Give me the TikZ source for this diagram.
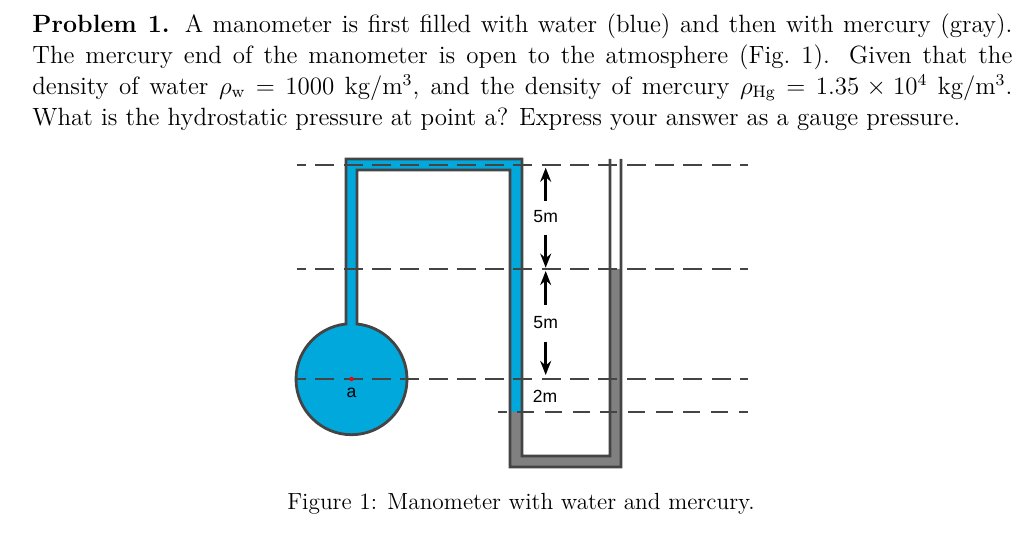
\documentclass[tikz,border=0pt]{standalone}
\usepackage{mathtools}
\usepackage{fontspec}
\usetikzlibrary{arrows.meta}
\newfontfamily\figlabelfont{Liberation Sans}
\definecolor{waterblue}{HTML}{00A8DC}
\definecolor{mercurygray}{HTML}{808080}
\definecolor{tubeline}{HTML}{444444}
\tikzstyle{level} = [tubeline, line width=0.4pt, dash pattern=on 0.19cm off 0.093cm, dash phase=0.10cm]
\tikzstyle{tube} = [tubeline, line width=0.8pt]
\tikzstyle{dimarrow} = [line width=0.75pt, -{Stealth[length=4pt,width=3.1pt]}]
\tikzstyle{dimlabel} = [inner sep=0pt, font=\figlabelfont\fontsize{5pt}{5pt}\selectfont]
\tikzstyle{page} = [inner sep=0pt, transform shape, font=\fontsize{12pt}{14.9pt}\selectfont]
\begin{document}
\begin{tikzpicture}
                \useasboundingbox (0, 0) rectangle (10.24, 5.37);
                % the problem text
                \node (problem) [page, scale=0.592, anchor=north west, text width=16.554cm, align=justify] at (0.32, 5.24) {\textbf{Problem 1.} A manometer is first filled with water (blue) and then with mercury (gray).\linebreak The mercury end of the manometer is open to the atmosphere (Fig.~1). Given that the\linebreak density of water $\rho_{\mathrm{w}}$ = 1000 kg/m$^3$, and the density of mercury $\rho_{\mathrm{Hg}}$ = $1.35\times10^{4}$ kg/m$^3$.\linebreak What is the hydrostatic pressure at point a? Express your answer as a gauge pressure.};
                % water and mercury
                \fill [waterblue] (3.57, 2.13) arc (84.3:-264.3:0.555) -- (3.46, 3.78) -- (5.22, 3.78) -- (5.22, 1.25) -- (5.10, 1.25) -- (5.10, 3.67) -- (3.57, 3.67) -- cycle;
                \fill [mercurygray] (5.10, 1.25) -- (5.10, 0.70) -- (6.21, 0.70) -- (6.21, 2.68) -- (6.10, 2.68) -- (6.10, 0.81) -- (5.22, 0.81) -- (5.22, 1.25) -- cycle;
                % the glass
                \draw [tube] (6.10, 3.78) -- (6.10, 0.81) -- (5.22, 0.81) -- (5.22, 3.78) -- (3.46, 3.78) -- (3.46, 2.13) arc (95.7:444.3:0.555) |- (5.10, 3.67) -- (5.10, 0.70) -- (6.21, 0.70) -- (6.21, 3.78);
                % the levels
                \draw [level] (2.97, 3.72) -- (7.48, 3.72);
                \draw [level] (2.97, 2.68) -- (7.48, 2.68);
                \draw [level] (2.97, 1.58) -- (7.48, 1.58);
                \draw [level, dash pattern=on 0.17cm off 0.107cm, dash phase=0.085cm] (4.98, 1.25) -- (7.48, 1.25);
                \fill [red] (3.515, 1.58) circle [radius=0.022];
                % the heights
                \coordinate (toplevel) at (5.457, 3.693);
                \coordinate (midabove) at (5.457, 2.693);
                \coordinate (midbelow) at (5.457, 2.66);
                \coordinate (lowlevel) at (5.457, 1.62);
                \node (upperheight) [dimlabel, text height=0.206cm, text depth=0.117cm] at (5.457, 3.1915) {5m};
                \node (lowerheight) [dimlabel, text height=0.233cm, text depth=0.12cm] at (5.457, 2.1365) {5m};
                \node (shortheight) [dimlabel, anchor=base] at (5.45, 1.343) {2m};
                \node (pointa) [dimlabel, anchor=base] at (3.515, 1.39) {a};
                \draw [dimarrow] (upperheight) -- (toplevel);
                \draw [dimarrow] (upperheight) -- (midabove);
                \draw [dimarrow] (lowerheight) -- (midbelow);
                \draw [dimarrow] (lowerheight) -- (lowlevel);
                % the caption
                \node (caption) [page, scale=0.554] at (5.21, 0.33) {Figure 1: Manometer with water and mercury.};
            \end{tikzpicture}
\end{document}
